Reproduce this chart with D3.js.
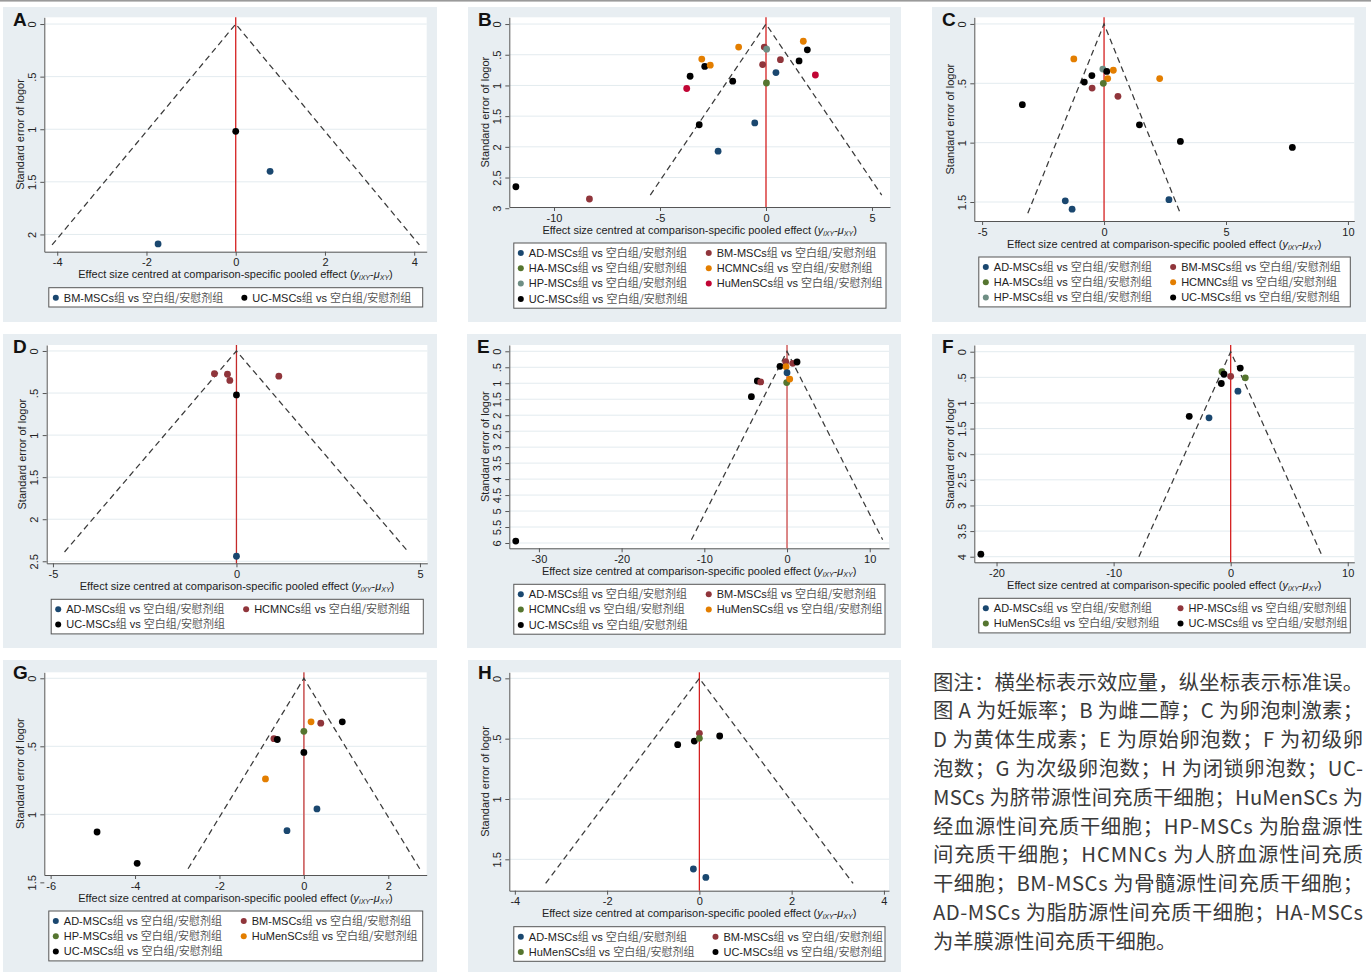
<!DOCTYPE html>
<html>
<head>
<meta charset="utf-8">
<script src="https://cdn.jsdelivr.net/npm/d3@7/dist/d3.min.js"></script>
<style>
  body { margin: 0; background: #fff; }
  svg { display: block; }
</style>
</head>
<body>
<svg id="fig" width="1371" height="972"></svg>
<script>
// ---------------- data ----------------
const panelLetters = ["A", "B", "C", "D", "E", "F", "G", "H"];
const comparisonText = "组 vs 空白组/安慰剂组";

// legend groups (in legend order) per panel
const groupsA = ["BM-MSCs", "UC-MSCs"];
const groupsB = ["AD-MSCs", "BM-MSCs", "HA-MSCs", "HCMNCs", "HP-MSCs", "HuMenSCs", "UC-MSCs"];
const groupsC = ["AD-MSCs", "BM-MSCs", "HA-MSCs", "HCMNCs", "HP-MSCs", "UC-MSCs"];
const groupsD = ["AD-MSCs", "HCMNCs", "UC-MSCs"];
const groupsE = ["AD-MSCs", "BM-MSCs", "HCMNCs", "HuMenSCs", "UC-MSCs"];
const groupsF = ["AD-MSCs", "HP-MSCs", "HuMenSCs", "UC-MSCs"];
const groupsG = ["AD-MSCs", "BM-MSCs", "HP-MSCs", "HuMenSCs", "UC-MSCs"];
const groupsH = ["AD-MSCs", "BM-MSCs", "HuMenSCs", "UC-MSCs"];

// studies: [group, centred effect size, standard error of logor]
const pointsA = [
  ["BM-MSCs", -1.74, 2.09], ["BM-MSCs", 0.77, 1.40], ["UC-MSCs", 0.00, 1.02]
];
const pointsB = [
  ["UC-MSCs", -11.8, 2.65], ["BM-MSCs", -8.33, 2.85], ["UC-MSCs", -3.15, 1.64],
  ["AD-MSCs", -2.26, 2.07], ["AD-MSCs", -0.53, 1.61], ["HuMenSCs", -3.74, 1.05],
  ["UC-MSCs", -3.58, 0.85], ["HCMNCs", -3.03, 0.57], ["UC-MSCs", -2.89, 0.69],
  ["HCMNCs", -2.63, 0.67], ["HCMNCs", -1.29, 0.375], ["UC-MSCs", -1.57, 0.93],
  ["BM-MSCs", -0.08, 0.375], ["HP-MSCs", 0.03, 0.41], ["BM-MSCs", -0.16, 0.66],
  ["HA-MSCs", 0.02, 0.96], ["AD-MSCs", 0.47, 0.79], ["BM-MSCs", 0.68, 0.58],
  ["UC-MSCs", 1.56, 0.60], ["HCMNCs", 1.76, 0.28], ["UC-MSCs", 1.95, 0.42],
  ["HuMenSCs", 2.33, 0.83]
];
const pointsC = [
  ["HCMNCs", -1.24, 0.295], ["HP-MSCs", -0.05, 0.38], ["UC-MSCs", 0.11, 0.40],
  ["HCMNCs", 0.38, 0.39], ["UC-MSCs", -0.50, 0.435], ["UC-MSCs", -0.81, 0.49],
  ["HCMNCs", 0.15, 0.46], ["HA-MSCs", -0.03, 0.50], ["HCMNCs", 2.28, 0.46],
  ["BM-MSCs", -0.49, 0.54], ["BM-MSCs", 0.57, 0.61], ["UC-MSCs", -3.35, 0.68],
  ["UC-MSCs", 1.45, 0.85], ["UC-MSCs", 3.13, 0.99], ["UC-MSCs", 7.72, 1.04],
  ["AD-MSCs", -1.59, 1.49], ["AD-MSCs", -1.31, 1.56], ["AD-MSCs", 2.66, 1.48]
];
const pointsD = [
  ["HCMNCs", -0.60, 0.27], ["HCMNCs", -0.245, 0.277], ["HCMNCs", -0.18, 0.35],
  ["HCMNCs", 1.155, 0.30], ["UC-MSCs", 0.00, 0.523], ["AD-MSCs", 0.00, 2.44]
];
const pointsE = [
  ["UC-MSCs", -32.8, 5.94], ["UC-MSCs", -4.31, 1.42], ["UC-MSCs", -3.59, 0.93],
  ["BM-MSCs", -3.18, 0.96], ["UC-MSCs", -0.85, 0.47], ["BM-MSCs", -0.16, 0.325],
  ["HuMenSCs", -0.12, 0.48], ["AD-MSCs", 0.00, 0.67], ["HCMNCs", -0.04, 0.98],
  ["HuMenSCs", 0.33, 0.87], ["BM-MSCs", 0.69, 0.376], ["UC-MSCs", 1.21, 0.335]
];
const pointsF = [
  ["UC-MSCs", -21.34, 3.95], ["UC-MSCs", -3.54, 1.26], ["AD-MSCs", -1.85, 1.29],
  ["HuMenSCs", -0.74, 0.39], ["UC-MSCs", -0.57, 0.44], ["UC-MSCs", -0.80, 0.62],
  ["HP-MSCs", 0.00, 0.48], ["AD-MSCs", 0.62, 0.77], ["UC-MSCs", 0.82, 0.32],
  ["HuMenSCs", 1.25, 0.51]
];
const pointsG = [
  ["UC-MSCs", -4.90, 1.13], ["UC-MSCs", -3.95, 1.36], ["AD-MSCs", -0.40, 1.12],
  ["AD-MSCs", 0.31, 0.96], ["HuMenSCs", -0.91, 0.74], ["BM-MSCs", -0.71, 0.444],
  ["UC-MSCs", -0.63, 0.45], ["UC-MSCs", 0.00, 0.545], ["HP-MSCs", 0.00, 0.39],
  ["HuMenSCs", 0.17, 0.32], ["BM-MSCs", 0.40, 0.33], ["UC-MSCs", 0.91, 0.32]
];
const pointsH = [
  ["UC-MSCs", -0.47, 0.55], ["UC-MSCs", -0.11, 0.52], ["BM-MSCs", 0.00, 0.456],
  ["HuMenSCs", 0.00, 0.497], ["UC-MSCs", 0.44, 0.478], ["AD-MSCs", -0.13, 1.58],
  ["AD-MSCs", 0.14, 1.65]
];

// pseudo 95% funnel extent (standard error at the lower end of the dashed lines)
const funnelMaxSE = [2.10, 2.785, 1.595, 2.39, 5.90, 4.00, 1.40, 1.70];

// axis tick values
const xTicksA = [-4, -2, 0, 2, 4],        yTicksA = [0, 0.5, 1, 1.5, 2];
const xTicksB = [-10, -5, 0, 5],          yTicksB = [0, 0.5, 1, 1.5, 2, 2.5, 3];
const xTicksC = [-5, 0, 5, 10],           yTicksC = [0, 0.5, 1, 1.5];
const xTicksD = [-5, 0, 5],               yTicksD = [0, 0.5, 1, 1.5, 2, 2.5];
const xTicksE = [-30, -20, -10, 0, 10],   yTicksE = [0, 0.5, 1, 1.5, 2, 2.5, 3, 3.5, 4, 4.5, 5, 5.5, 6];
const xTicksF = [-20, -10, 0, 10],        yTicksF = [0, 0.5, 1, 1.5, 2, 2.5, 3, 3.5, 4];
const xTicksG = [-6, -4, -2, 0, 2],       yTicksG = [0, 0.5, 1, 1.5];
const xTicksH = [-4, -2, 0, 2, 4],        yTicksH = [0, 0.5, 1, 1.5];

// figure note, one entry per printed line
const noteLines = [
  "图注：横坐标表示效应量，纵坐标表示标准误。",
  "图 A 为妊娠率；B 为雌二醇；C 为卵泡刺激素；",
  "D 为黄体生成素；E 为原始卵泡数；F 为初级卵",
  "泡数；G 为次级卵泡数；H 为闭锁卵泡数；UC-",
  "MSCs 为脐带源性间充质干细胞；HuMenSCs 为",
  "经血源性间充质干细胞；HP-MSCs 为胎盘源性",
  "间充质干细胞；HCMNCs 为人脐血源性间充质",
  "干细胞；BM-MSCs 为骨髓源性间充质干细胞；",
  "AD-MSCs 为脂肪源性间充质干细胞；HA-MSCs",
  "为羊膜源性间充质干细胞。"
];

// ---------------- layout & style ----------------
const palette = ["#1a476f", "#90353b", "#55752f", "#e37e00", "#6e8e84", "#c10534"];
const LATIN = "'Liberation Sans', Arial, 'Noto Sans CJK SC', sans-serif";
const CJK = "'Noto Sans CJK SC', sans-serif";

// bg: [x, y, w, h]; plot: [left, top, right, bottom]
const layout = [
  { bg: [3, 7, 434, 315],   plot: [44.3, 17.3, 426.7, 251.7],  xDom: [-4.29, 4.28],   yDom: [-0.064, 2.164], ref: "#d42020" },
  { bg: [468, 7, 433, 315], plot: [509.3, 17.3, 890, 207],     xDom: [-12.11, 5.85],  yDom: [-0.11, 2.98],   ref: "#d42020" },
  { bg: [932, 7, 434, 315], plot: [974.3, 17.3, 1354.3, 221],  xDom: [-5.32, 10.26],  yDom: [-0.056, 1.66],  ref: "#d42020" },
  { bg: [3, 334, 434, 314], plot: [46.7, 345, 427.3, 563.3],   xDom: [-5.17, 5.2],    yDom: [-0.071, 2.524], ref: "#c42a2a" },
  { bg: [467, 334, 434, 314], plot: [509.3, 345, 889, 548.3],  xDom: [-33.58, 12.33], yDom: [-0.197, 6.166], ref: "#d87a7a" },
  { bg: [932, 334, 434, 314], plot: [974.3, 345, 1354.3, 562.3], xDom: [-21.9, 10.56], yDom: [-0.131, 4.109], ref: "#d42020" },
  { bg: [3, 660, 434, 312], plot: [44.3, 672.3, 426.7, 875],   xDom: [-6.15, 2.91],   yDom: [-0.044, 1.446], ref: "#d06a6a" },
  { bg: [468, 660, 433, 312], plot: [509.3, 672.3, 889, 890.7], xDom: [-4.12, 4.11],  yDom: [-0.05, 1.76],   ref: "#d42020" }
];

const groupsList = [groupsA, groupsB, groupsC, groupsD, groupsE, groupsF, groupsG, groupsH];
const pointsList = [pointsA, pointsB, pointsC, pointsD, pointsE, pointsF, pointsG, pointsH];
const xTicksList = [xTicksA, xTicksB, xTicksC, xTicksD, xTicksE, xTicksF, xTicksG, xTicksH];
const yTicksList = [yTicksA, yTicksB, yTicksC, yTicksD, yTicksE, yTicksF, yTicksG, yTicksH];

const svg = d3.select("#fig");

// thin rule across the top of the figure
svg.append("rect").attr("x", 0).attr("y", 0).attr("width", 1371).attr("height", 1.6).attr("fill", "#9a9a9a");

const fmtTick = d => String(d).replace(/^(-?)0\./, "$1.");

function colorFor(groups, name) {
  const i = groups.indexOf(name);
  return i === groups.length - 1 ? "#000" : palette[i];
}

// splits a label into latin / CJK runs so CJK can be shaded a little lighter
function addLabel(sel, str) {
  const parts = str.split(/([\u3000-\u9fff\/]+)/).filter(s => s.length);
  parts.forEach(p => {
    const cjk = /[\u3000-\u9fff]/.test(p);
    sel.append("tspan").text(p)
      .attr("font-family", cjk ? CJK : LATIN)
      .attr("fill", cjk ? "#555" : "#222");
  });
}

function drawPanel(k) {
  const L = layout[k];
  const groups = groupsList[k], pts = pointsList[k];
  const [left, top, right, bottom] = L.plot;
  const g = svg.append("g");

  g.append("rect").attr("x", L.bg[0]).attr("y", L.bg[1]).attr("width", L.bg[2]).attr("height", L.bg[3])
    .attr("fill", "#e8eef2");
  g.append("rect").attr("x", left).attr("y", top).attr("width", right - left).attr("height", bottom - top)
    .attr("fill", "#fff");

  const x = d3.scaleLinear().domain(L.xDom).range([left, right]);
  const y = d3.scaleLinear().domain(L.yDom).range([top, bottom]);

  // horizontal grid
  g.append("g").selectAll("line")
    .data(yTicksList[k].filter(t => y(t) >= top && y(t) <= bottom))
    .join("line")
    .attr("x1", left).attr("x2", right)
    .attr("y1", d => y(d)).attr("y2", d => y(d))
    .attr("stroke", "#e3ebef").attr("stroke-width", 1);

  // y axis
  const ya = g.append("g").attr("transform", `translate(${left},0)`)
    .call(d3.axisLeft(y).tickValues(yTicksList[k]).tickSize(4).tickSizeOuter(0).tickFormat(fmtTick));
  ya.select(".domain").attr("stroke", "#555");
  ya.selectAll(".tick line").attr("stroke", "#555");
  ya.selectAll(".tick text")
    .attr("x", null).attr("dy", "0.35em")
    .attr("transform", "translate(-12.5,0) rotate(-90)")
    .attr("text-anchor", "middle")
    .attr("font-family", LATIN).attr("font-size", 11).attr("fill", "#222");

  // x axis
  const xa = g.append("g").attr("transform", `translate(0,${bottom})`)
    .call(d3.axisBottom(x).tickValues(xTicksList[k]).tickSize(4).tickSizeOuter(0).tickFormat(fmtTick));
  xa.select(".domain").attr("stroke", "#555");
  xa.selectAll(".tick line").attr("stroke", "#555");
  xa.selectAll(".tick text")
    .attr("font-family", LATIN).attr("font-size", 11).attr("fill", "#222");

  // pooled-effect reference line and pseudo confidence funnel
  g.append("line")
    .attr("x1", x(0)).attr("x2", x(0)).attr("y1", top).attr("y2", bottom)
    .attr("stroke", L.ref).attr("stroke-width", k === 4 || k === 6 ? 1.8 : 1.3);
  const se = funnelMaxSE[k];
  g.append("path")
    .attr("d", `M${x(-1.96 * se)},${y(se)}L${x(0)},${y(0)}L${x(1.96 * se)},${y(se)}`)
    .attr("fill", "none").attr("stroke", "#3a3a3a").attr("stroke-width", 1.25)
    .attr("stroke-dasharray", "6,4");

  // studies
  g.append("g").selectAll("circle").data(pts).join("circle")
    .attr("cx", d => x(d[1])).attr("cy", d => y(d[2])).attr("r", 3.4)
    .attr("fill", d => colorFor(groups, d[0]));

  // panel letter
  g.append("text").attr("x", L.bg[0] + 10).attr("y", L.bg[1] + 18.5)
    .attr("font-family", LATIN).attr("font-weight", "bold").attr("font-size", 19).attr("fill", "#111")
    .text(panelLetters[k]);

  // axis titles
  g.append("text")
    .attr("transform", `translate(${left - 24.5},${(top + bottom) / 2}) rotate(-90)`)
    .attr("dy", "0.35em").attr("text-anchor", "middle")
    .attr("font-family", LATIN).attr("font-size", 11).attr("fill", "#222")
    .text("Standard error of logor");

  const xt = g.append("text").attr("x", (left + right) / 2).attr("y", bottom + 26.5)
    .attr("text-anchor", "middle").attr("font-family", LATIN).attr("font-size", 11).attr("fill", "#222");
  xt.append("tspan").text("Effect size centred at comparison-specific pooled effect (");
  xt.append("tspan").attr("font-style", "italic").text("y");
  xt.append("tspan").attr("font-style", "italic").attr("font-size", 7).attr("dy", 2).text("iXY");
  xt.append("tspan").attr("dy", -2).text("-");
  xt.append("tspan").attr("font-style", "italic").text("μ");
  xt.append("tspan").attr("font-style", "italic").attr("font-size", 7).attr("dy", 2).text("XY");
  xt.append("tspan").attr("dy", -2).text(")");

  // legend
  const rows = Math.ceil(groups.length / 2);
  const bx = left + 4.5, bw = (right - 4) - bx, by = bottom + 36, bh = rows * 15.3 + 4;
  const lg = g.append("g");
  lg.append("rect").attr("x", bx).attr("y", by).attr("width", bw).attr("height", bh)
    .attr("fill", "#fff").attr("stroke", "#555").attr("stroke-width", 1);
  const col0 = bx + 7;
  const items = groups.map((name, i) => ({ name, i, row: Math.floor(i / 2), col: i % 2 }));
  const texts = [];
  items.forEach(it => {
    const t = lg.append("text").attr("y", by + 10 + it.row * 15.3).attr("dy", "0.35em")
      .attr("font-size", 11);
    addLabel(t, it.name + comparisonText);
    texts.push(t);
  });
  const w0 = d3.max(items.filter(it => it.col === 0), it => texts[it.i].node().getComputedTextLength());
  const col1 = col0 + 8 + w0 + 21;
  items.forEach(it => {
    const mx = it.col === 0 ? col0 : col1;
    lg.append("circle").attr("cx", mx).attr("cy", by + 10 + it.row * 15.3).attr("r", 3)
      .attr("fill", colorFor(groups, it.name));
    texts[it.i].attr("x", mx + 8);
  });
}

panelLetters.forEach((_, k) => drawPanel(k));

// figure note
const note = svg.append("g");
noteLines.forEach((line, i) => {
  const t = note.append("text")
    .attr("x", 933).attr("y", 689.5 + i * 28.8)
    .attr("font-family", CJK).attr("font-size", 20.3).attr("fill", "#3a3a3a")
    .text(line);
  if (i < noteLines.length - 1) t.attr("textLength", 430).attr("lengthAdjust", "spacing");
});
</script>
</body>
</html>
